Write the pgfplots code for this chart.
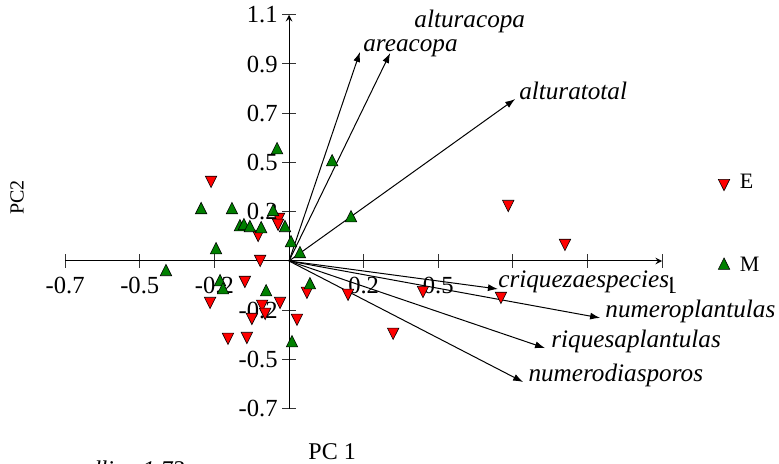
\documentclass[border=0pt]{standalone}
\usepackage{fontspec}
\setmainfont{Liberation Serif}
\usepackage{pgfplots}
\pgfplotsset{compat=1.18}
\usetikzlibrary{arrows.meta}
\definecolor{mgreen}{RGB}{0,128,0}
\begin{document}
\begin{tikzpicture}
\begin{axis}[
  scale only axis, width=298.5pt, height=197pt,
  xmin=-0.675, xmax=1.125, ymin=-0.675, ymax=1.125,
  axis lines=middle,
  clip=false,
  axis line style={line width=0.5pt, black},
  xtick={-0.675,-0.45,-0.225,0.225,0.45,0.675,0.9,1.125},
  xticklabels={-0.7,-0.5,-0.2,0.2,0.5,{},{},{\phantom{1.}1}},
  ytick={-0.675,-0.45,-0.225,0.225,0.45,0.675,0.9,1.125},
  yticklabels={-0.7,-0.5,-0.2,0.2,0.5,0.7,0.9,1.1},
  tick align=center, major tick length=7pt,
  tick style={line width=0.5pt, black!80},
  /pgf/number format/assume math mode=true,
  tick label style={font=\fontsize{12.3}{14}\selectfont},
  xticklabel style={anchor=base, yshift=-13pt},
  yticklabel style={anchor=east, inner sep=2pt},
  xlabel={PC 1}, ylabel={PC2},
  xlabel style={at={(axis description cs:0.4472,-0.109)}, anchor=center, font=\fontsize{12}{14}\selectfont},
  ylabel style={at={(axis description cs:-0.0804,0.5355)}, anchor=center, rotate=90, font=\fontsize{10}{12}\selectfont},
  legend style={draw=none, fill=none, at={(axis description cs:1.0834,0.468)}, anchor=west,
    row sep=28.5pt, column sep=3pt, font=\fontsize{11}{13}\selectfont},
  legend cell align=left,
]
% variable labels
\begin{scope}[every node/.style={fill=white, inner sep=0.5pt, anchor=base west, font=\itshape\fontsize{12.6}{14}\selectfont}]
\node at (axis cs:0.374,1.069) {alturacopa};
\node[text height=10.5pt] at (axis cs:0.220,0.955) {areacopa};
\node at (axis cs:0.690,0.740) {alturatotal};
\node at (axis cs:0.627,-0.123) {criquezaespecies};
\node at (axis cs:0.950,-0.259) {numeroplantulas};
\node at (axis cs:0.787,-0.396) {riquesaplantulas};
\node at (axis cs:0.718,-0.552) {numerodiasporos};
\end{scope}
\node[anchor=north west, inner sep=0pt, font=\itshape\fontsize{12}{14}\selectfont] at (axis description cs:0.0385,-0.132) {dline 1.73};
% arrows
\pgfplotsset{every axis plot/.append style={line width=0.5pt}}
\addplot[forget plot, black, -{Latex[length=5pt,width=3.5pt]}] coordinates {(0,0) (0.214,0.955)};
\addplot[forget plot, black, -{Latex[length=5pt,width=3.5pt]}] coordinates {(0,0) (0.305,0.950)};
\addplot[forget plot, black, -{Latex[length=5pt,width=3.5pt]}] coordinates {(0,0) (0.682,0.740)};
\addplot[forget plot, black, -{Latex[length=5pt,width=3.5pt]}] coordinates {(0,0) (0.630,-0.128)};
\addplot[forget plot, black, -{Latex[length=5pt,width=3.5pt]}] coordinates {(0,0) (0.938,-0.260)};
\addplot[forget plot, black, -{Latex[length=5pt,width=3.5pt]}] coordinates {(0,0) (0.772,-0.398)};
\addplot[forget plot, black, -{Latex[length=5pt,width=3.5pt]}] coordinates {(0,0) (0.706,-0.553)};
% E group
\addplot[only marks, mark=triangle*, mark size=3.3pt, mark options={rotate=180, yscale=1.15, fill=red, draw=black, line width=0.3pt}] table {
x y
-0.235 0.370
-0.030 0.201
-0.033 0.174
-0.093 0.123
-0.087 0.009
-0.133 -0.087
-0.238 -0.183
-0.081 -0.196
-0.027 -0.183
-0.072 -0.233
-0.112 -0.256
0.024 -0.260
-0.184 -0.347
-0.127 -0.343
0.054 -0.137
0.178 -0.146
0.314 -0.324
0.404 -0.133
0.639 -0.160
0.661 0.260
0.832 0.082
};
\addlegendentry{E}
% M group
\addplot[only marks, mark=triangle*, mark size=3.3pt, mark options={yscale=1.15, fill=mgreen, draw=black, line width=0.3pt}] table {
x y
-0.036 0.507
0.130 0.452
-0.265 0.233
-0.172 0.233
-0.048 0.224
0.187 0.196
-0.148 0.155
-0.136 0.160
-0.118 0.151
-0.084 0.146
-0.012 0.151
0.006 0.082
0.033 0.032
-0.220 0.050
-0.371 -0.050
-0.208 -0.096
-0.199 -0.133
-0.069 -0.142
0.063 -0.110
0.009 -0.375
};
\addlegendentry{M}
\coordinate (bbl) at (axis cs:-0.8714,-0.9274);
\coordinate (btr) at (axis cs:1.4774,1.1924);
\end{axis}
\pgfresetboundingbox
\path[use as bounding box] (bbl) rectangle (btr);
\end{tikzpicture}
\end{document}
